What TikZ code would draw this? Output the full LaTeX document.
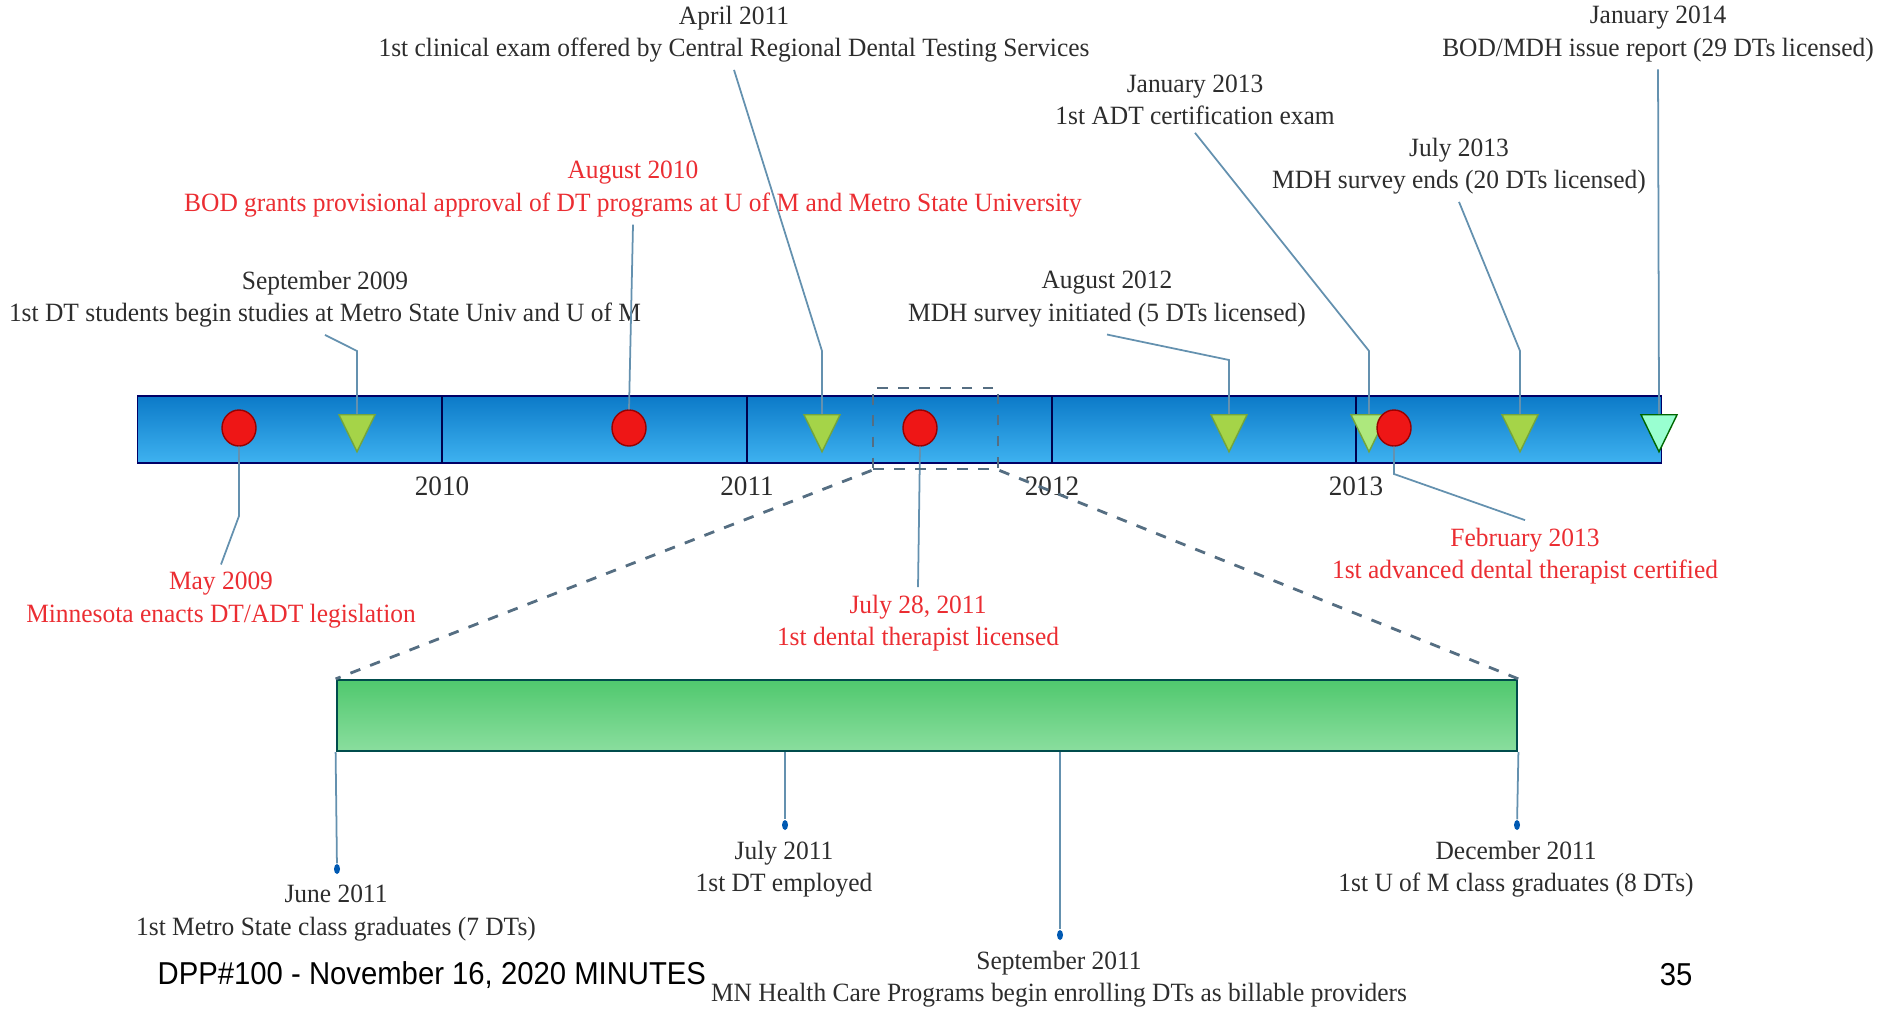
\documentclass[tikz,border=0pt]{standalone}
\usepackage{fontspec}
\setmainfont[FakeStretch=0.965]{Liberation Serif}
\newfontfamily\footfont[FakeStretch=0.925]{Liberation Sans}
\usetikzlibrary{shapes.geometric}
\definecolor{txt}{RGB}{45,45,45}
\definecolor{redtxt}{RGB}{235,45,50}
\definecolor{linec}{RGB}{100,145,175}
\definecolor{bartop}{RGB}{12,122,200}
\definecolor{barbot}{RGB}{62,178,240}
\definecolor{gbartop}{RGB}{80,200,110}
\definecolor{gbarbot}{RGB}{138,222,158}
\definecolor{trifill}{RGB}{165,212,72}
\definecolor{tridraw}{RGB}{115,165,60}
\definecolor{ballfill}{RGB}{238,22,22}
\definecolor{dashc}{RGB}{85,110,130}
\begin{document}
\begin{tikzpicture}[x=0.01cm, y=-0.01cm,
	evt/.style={align=center, font=\fontsize{7.5}{9.2}\selectfont, text=txt, inner sep=2pt},
	redevt/.style={evt, text=redtxt},
	conn/.style={draw=linec, line width=0.5pt},
	tri/.style={isosceles triangle, isosceles triangle apex angle=52, shape border rotate=270, minimum height=0.37cm, inner sep=0pt, fill=trifill, draw=tridraw, line width=0.4pt},
	ball/.style={ellipse, minimum width=0.34cm, minimum height=0.36cm, inner sep=0pt, fill=ballfill, draw=red!60!black, line width=0.4pt},
	enddot/.style={ellipse, minimum width=0.06cm, minimum height=0.1cm, inner sep=0pt, fill=blue!50!cyan!70!black},
	year/.style={font=\fontsize{8}{9}\selectfont, text=txt},
	foot/.style={font=\footfont\fontsize{9}{10}\selectfont, text=black, inner sep=0pt}]
	\useasboundingbox (0,0) rectangle (1880,1009);

	% main time bar
	\node[draw=blue!40!black, line width=0.4pt, top color=bartop, bottom color=barbot, minimum width=15.23cm, minimum height=0.67cm, inner sep=0pt] (bar) at (899.5,429.5) {};
	\foreach \x/\yr in {442/2010, 747/2011, 1052/2012, 1356/2013} {
		\draw[blue!30!black, line width=0.5pt] (\x,396) -- (\x,463);
		\node[year] at (\x,486) {\yr};
	}

	% markers on the bar
	\node[ball] (may09) at (239,428) {};
	\node[ball] (aug10) at (629,428) {};
	\node[ball] (jul11) at (920,428) {};
	\node[tri] (sep09) at (357,426) {};
	\node[tri] (apr11) at (822,426) {};
	\node[tri] (aug12) at (1229,426) {};
	\node[tri, fill=green!55!yellow!70!gray!60!white] (jan13) at (1369,426) {};
	\node[ball] (feb13) at (1394,428) {};
	\node[tri] (jul13) at (1520,426) {};
	\node[tri, fill=green!45!cyan!40!white, draw=green!40!black] (jan14) at (1659,426) {};

	% labels above
	\node[evt] (apr11L) at (734,34) {April 2011\\1st clinical exam offered by Central Regional Dental Testing Services};
	\node[evt] (jan14L) at (1658,34) {January 2014\\BOD/MDH issue report (29 DTs licensed)};
	\node[evt] (jan13L) at (1195,100) {January 2013\\1st ADT certification exam};
	\node[evt] (jul13L) at (1459,166) {July 2013\\MDH survey ends (20 DTs licensed)};
	\node[redevt] (aug10L) at (633,189) {August 2010\\BOD grants provisional approval of DT programs at U of M and Metro State University};
	\node[evt] (sep09L) at (325,299) {September 2009\\1st DT students begin studies at Metro State Univ and U of M};
	\node[evt] (aug12L) at (1107,299) {August 2012\\MDH survey initiated (5 DTs licensed)};

	% labels below
	\node[redevt] (may09L) at (221,600) {May 2009\\Minnesota enacts DT/ADT legislation};
	\node[redevt] (jul11L) at (918,623) {July 28, 2011\\1st dental therapist licensed};
	\node[redevt] (feb13L) at (1525,556) {February 2013\\1st advanced dental therapist certified};

	% bends
	\coordinate (sep09b) at (357,351);
	\coordinate (apr11b) at (822,351);
	\coordinate (aug12b) at (1229,360);
	\coordinate (jan13b) at (1369,351);
	\coordinate (jul13b) at (1520,351);
	\coordinate (may09b) at (239,516);
	\coordinate (feb13b) at (1394,474);

	\draw[conn] (sep09L.south) -- (sep09b) -- (sep09.north);
	\draw[conn] (aug10L.south) -- (aug10.north);
	\draw[conn] (apr11L.south) -- (apr11b) -- (apr11.north);
	\draw[conn] (aug12L.south) -- (aug12b) -- (aug12.north);
	\draw[conn] (jan13L.south) -- (jan13b) -- (jan13.north);
	\draw[conn] (jul13L.south) -- (jul13b) -- (jul13.north);
	\draw[conn] (jan14L.south) -- (jan14.north);
	\draw[conn] (may09.south) -- (may09b) -- (may09L.north);
	\draw[conn] (jul11.south) -- (jul11L.north);
	\draw[conn] (feb13.south) -- (feb13b) -- (feb13L.north);

	% zoom of 2011
	\node[draw=dashc, dashed, line width=0.8pt, minimum width=1.25cm, minimum height=0.81cm, inner sep=0pt] (zoom) at (935.5,428.5) {};
	\node[draw=teal!60!black, line width=0.6pt, top color=gbartop, bottom color=gbarbot, minimum width=11.8cm, minimum height=0.71cm, inner sep=0pt] (zbar) at (927,715.5) {};
	\draw[dashc, dashed, line width=0.8pt] (zoom.south west) -- (zbar.north west);
	\draw[dashc, dashed, line width=0.8pt] (zoom.south east) -- (zbar.north east);

	\node[enddot] (jun11d) at (337,869) {};
	\node[enddot] (jul11d) at (785,825) {};
	\node[enddot] (sep11d) at (1060,935) {};
	\node[enddot] (dec11d) at (1517,825) {};
	\draw[conn] (zbar.south west) -- (jun11d);
	\draw[conn] (zbar.south -| jul11d) -- (jul11d);
	\draw[conn] (zbar.south -| sep11d) -- (sep11d);
	\draw[conn] (zbar.south east) -- (dec11d);

	\node[evt] (jun11L) at (336,913) {June 2011\\1st Metro State class graduates (7 DTs)};
	\node[evt] (jul11dL) at (784,869) {July 2011\\1st DT employed};
	\node[evt] (dec11L) at (1516,869) {December 2011\\1st U of M class graduates (8 DTs)};
	\node[evt] (sep11L) at (1059,979) {September 2011\\MN Health Care Programs begin enrolling DTs as billable providers};

	% footer
	\node[foot, anchor=west] (footL) at (157,975) {DPP\#100 - November 16, 2020 MINUTES};
	\node[foot] (pageN) at (1676,975) {35};
\end{tikzpicture}
\end{document}
